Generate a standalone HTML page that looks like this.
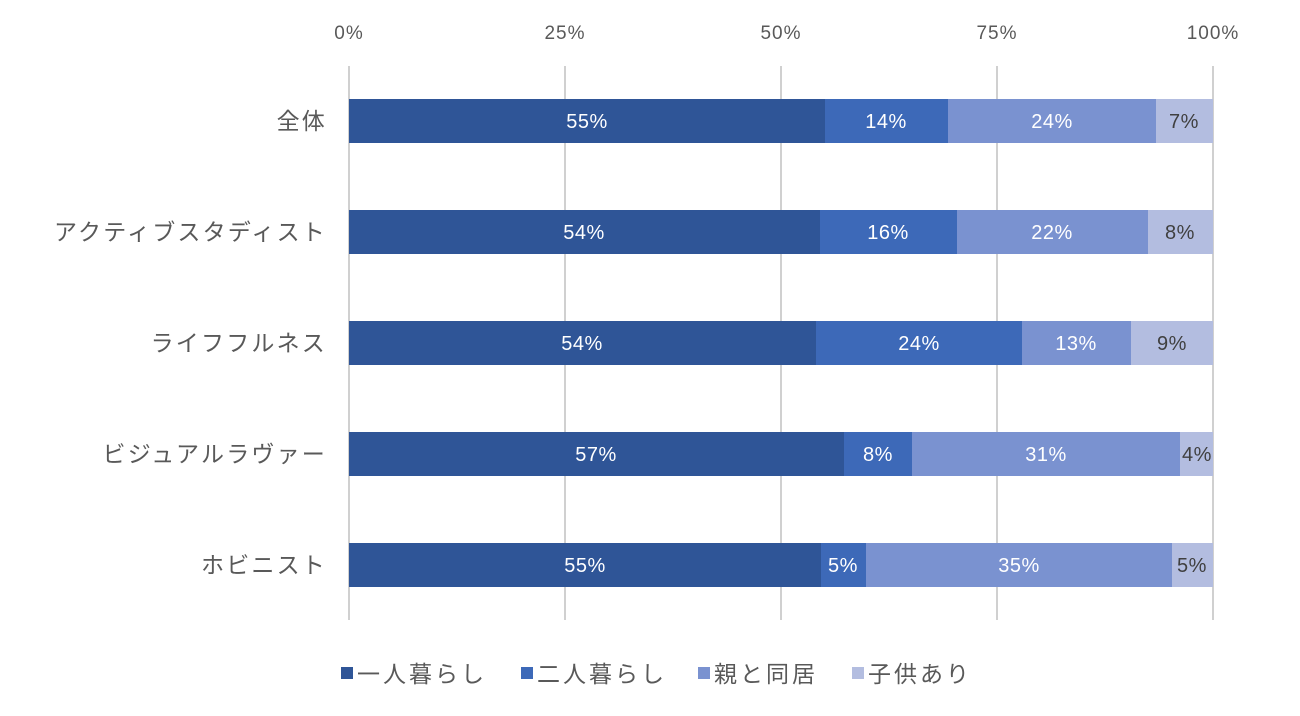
<!DOCTYPE html><html><head><meta charset="utf-8"><style>body{margin:0;background:#fff}svg{display:block}text{font-family:"Liberation Sans","Noto Sans CJK JP",sans-serif}</style></head><body>
<svg width="1300" height="716" xmlns="http://www.w3.org/2000/svg">
<g stroke="#d0d0d0" stroke-width="2">
<line x1="349" y1="66" x2="349" y2="620"/><line x1="565" y1="66" x2="565" y2="620"/><line x1="781" y1="66" x2="781" y2="620"/><line x1="997" y1="66" x2="997" y2="620"/><line x1="1213" y1="66" x2="1213" y2="620"/>
</g>
<g font-size="19" fill="#595959" text-anchor="middle" letter-spacing="1">
<text x="349" y="39">0%</text><text x="565" y="39">25%</text><text x="781" y="39">50%</text><text x="997" y="39">75%</text><text x="1213" y="39">100%</text>
</g>
<g font-size="23" fill="#595959" text-anchor="end" letter-spacing="2.2">
<text x="327" y="129">全体</text><text x="327" y="240">アクティブスタディスト</text><text x="327" y="351">ライフフルネス</text><text x="327" y="462">ビジュアルラヴァー</text><text x="327" y="573">ホビニスト</text>
</g>
<g font-size="20" text-anchor="middle" letter-spacing="0.5">
<rect x="349" y="99" width="476" height="44" fill="#2F5597"/><rect x="825" y="99" width="123" height="44" fill="#3D69B8"/><rect x="948" y="99" width="208" height="44" fill="#7A92D0"/><rect x="1156" y="99" width="57" height="44" fill="#B3BDE0"/>
<text x="587" y="128" fill="#fff">55%</text><text x="886" y="128" fill="#fff">14%</text><text x="1052" y="128" fill="#fff">24%</text><text x="1184" y="128" fill="#404040">7%</text>
<rect x="349" y="210" width="471" height="44" fill="#2F5597"/><rect x="820" y="210" width="137" height="44" fill="#3D69B8"/><rect x="957" y="210" width="191" height="44" fill="#7A92D0"/><rect x="1148" y="210" width="65" height="44" fill="#B3BDE0"/>
<text x="584" y="239" fill="#fff">54%</text><text x="888" y="239" fill="#fff">16%</text><text x="1052" y="239" fill="#fff">22%</text><text x="1180" y="239" fill="#404040">8%</text>
<rect x="349" y="321" width="467" height="44" fill="#2F5597"/><rect x="816" y="321" width="206" height="44" fill="#3D69B8"/><rect x="1022" y="321" width="109" height="44" fill="#7A92D0"/><rect x="1131" y="321" width="82" height="44" fill="#B3BDE0"/>
<text x="582" y="350" fill="#fff">54%</text><text x="919" y="350" fill="#fff">24%</text><text x="1076" y="350" fill="#fff">13%</text><text x="1172" y="350" fill="#404040">9%</text>
<rect x="349" y="432" width="495" height="44" fill="#2F5597"/><rect x="844" y="432" width="68" height="44" fill="#3D69B8"/><rect x="912" y="432" width="268" height="44" fill="#7A92D0"/><rect x="1180" y="432" width="33" height="44" fill="#B3BDE0"/>
<text x="596" y="461" fill="#fff">57%</text><text x="878" y="461" fill="#fff">8%</text><text x="1046" y="461" fill="#fff">31%</text><text x="1197" y="461" fill="#404040">4%</text>
<rect x="349" y="543" width="472" height="44" fill="#2F5597"/><rect x="821" y="543" width="45" height="44" fill="#3D69B8"/><rect x="866" y="543" width="306" height="44" fill="#7A92D0"/><rect x="1172" y="543" width="41" height="44" fill="#B3BDE0"/>
<text x="585" y="572" fill="#fff">55%</text><text x="843" y="572" fill="#fff">5%</text><text x="1019" y="572" fill="#fff">35%</text><text x="1192" y="572" fill="#404040">5%</text>
</g>
<g font-size="23" fill="#595959" letter-spacing="3">
<rect x="341" y="667" width="12" height="12" fill="#2F5597"/><text x="357" y="682">一人暮らし</text>
<rect x="521" y="667" width="12" height="12" fill="#3D69B8"/><text x="537" y="682">二人暮らし</text>
<rect x="698" y="667" width="12" height="12" fill="#7A92D0"/><text x="714" y="682">親と同居</text>
<rect x="852" y="667" width="12" height="12" fill="#B3BDE0"/><text x="868" y="682">子供あり</text>
</g>
</svg></body></html>
